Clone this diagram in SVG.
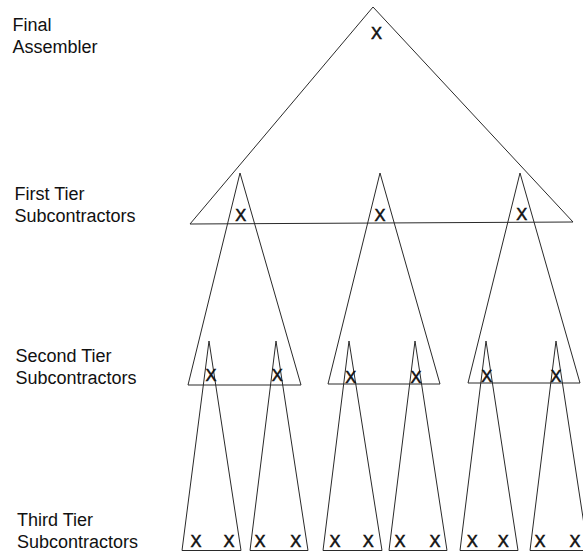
<svg xmlns="http://www.w3.org/2000/svg" width="583" height="553" viewBox="0 0 583 553">
<style>
.tri{fill:none;stroke:#2a2a2a;stroke-width:1;stroke-linejoin:miter}
.lbl{font-family:"Liberation Sans",Arial,sans-serif;font-size:18px;fill:#111}
.x{font-family:"Liberation Sans",Arial,sans-serif;font-size:16.5px;fill:#111;stroke:#111;stroke-width:0.5;text-anchor:middle}
</style>
<rect width="583" height="553" fill="#fff"/>
<g id="labels">
<text class="lbl" x="12.5" y="31">Final</text>
<text class="lbl" x="12.5" y="53">Assembler</text>
<text class="lbl" x="14.5" y="200">First Tier</text>
<text class="lbl" x="14.5" y="222">Subcontractors</text>
<text class="lbl" x="15.5" y="362">Second Tier</text>
<text class="lbl" x="15.5" y="384">Subcontractors</text>
<text class="lbl" x="17" y="526">Third Tier</text>
<text class="lbl" x="17" y="548">Subcontractors</text>
</g>
<g id="final-assembler">
<polygon class="tri" points="373,7 573,222 190,224"/>
<text class="x" x="376.5" y="38.5">X</text>
</g>
<g id="first-tier">
<g id="t1-a"><polygon class="tri" points="240,173 301,385 188,385"/><text class="x" x="240.7" y="221">X</text></g>
<g id="t1-b"><polygon class="tri" points="380,173 440,384 328,384"/><text class="x" x="380" y="220.5">X</text></g>
<g id="t1-c"><polygon class="tri" points="520,173 580,383 468,383"/><text class="x" x="521.7" y="220">X</text></g>
</g>
<g id="second-tier">
<g id="t2-a"><polygon class="tri" points="209,341 241,550.5 182,550.5"/><text class="x" x="211" y="381">X</text></g>
<g id="t2-b"><polygon class="tri" points="276,341 308,550.5 250,550.5"/><text class="x" x="277.3" y="381">X</text></g>
<g id="t2-c"><polygon class="tri" points="349,341 382,550.5 323,550.5"/><text class="x" x="350.7" y="383">X</text></g>
<g id="t2-d"><polygon class="tri" points="415,341 447,550.5 389,550.5"/><text class="x" x="416" y="383">X</text></g>
<g id="t2-e"><polygon class="tri" points="486,341 518,550.5 460,550.5"/><text class="x" x="486.7" y="382">X</text></g>
<g id="t2-f"><polygon class="tri" points="556,341 588,550.5 530,550.5"/><text class="x" x="556" y="382">X</text></g>
</g>
<g id="third-tier">
<text class="x" x="196" y="546.5">X</text>
<text class="x" x="229" y="546.5">X</text>
<text class="x" x="260" y="546.5">X</text>
<text class="x" x="295.7" y="546.5">X</text>
<text class="x" x="335" y="546.5">X</text>
<text class="x" x="368.3" y="546.5">X</text>
<text class="x" x="400" y="546.5">X</text>
<text class="x" x="435" y="546.5">X</text>
<text class="x" x="472.3" y="546.5">X</text>
<text class="x" x="503.3" y="546.5">X</text>
<text class="x" x="540" y="546.5">X</text>
<text class="x" x="575" y="546.5">X</text>
</g>
<g id="connectors"></g>
</svg>
